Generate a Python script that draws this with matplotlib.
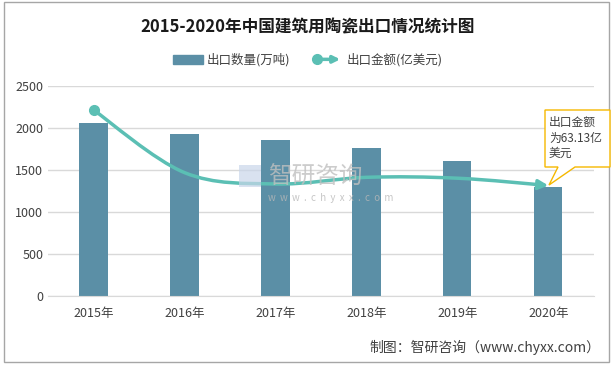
import numpy as np
import matplotlib
matplotlib.use("Agg")
import matplotlib.pyplot as plt
from matplotlib.path import Path
from matplotlib.patches import FancyArrowPatch, Patch, Rectangle, Polygon
from matplotlib.lines import Line2D
from matplotlib.legend_handler import HandlerBase

plt.rcParams['font.family'] = ['Noto Sans CJK SC', 'DejaVu Sans']

# data
years = ["2015年", "2016年", "2017年", "2018年", "2019年", "2020年"]
qty = [2063, 1929, 1857, 1762, 1607, 1301]          # 出口数量(万吨)
value = [106.3, 70.5, 64.0, 67.8, 67.3, 63.13]      # 出口金额(亿美元)

bar_col = "#5b8fa6"
line_col = "#5bbfb4"
txt_col = "#404040"

fig = plt.figure(figsize=(6.16, 3.68), dpi=100)
ax = fig.add_axes([0.078, 0.1957, 0.886, 0.5707])
ax2 = ax.twinx()

x = np.arange(len(years))
ax.bar(x, qty, width=0.31, color=bar_col, zorder=2)
ax.set_xlim(-0.5, len(years) - 0.5)
ax.set_ylim(0, 2500)
ax.set_yticks(range(0, 2501, 500))
ax.set_xticks(x)
ax.set_xticklabels(years)
ax.tick_params(axis='both', length=0, labelsize=9, colors=txt_col)
ax.tick_params(axis='x', pad=8)
ax.grid(axis='y', color="#d9d9d9", lw=1, zorder=0)
for s in ax.spines.values():
    s.set_visible(False)
ax.spines['bottom'].set_visible(True)
ax.spines['bottom'].set_color("#d9d9d9")

ax2.set_ylim(0, 120)
ax2.set_yticks([])
for s in ax2.spines.values():
    s.set_visible(False)

# smoothed line (catmull-rom -> bezier)
px = np.array(x, dtype=float)
py = np.array(value, dtype=float)
verts = [(px[0], py[0])]
codes = [Path.MOVETO]
n = len(px)
for i in range(n - 1):
    p0 = np.array([px[max(i - 1, 0)], py[max(i - 1, 0)]])
    p1 = np.array([px[i], py[i]])
    p2 = np.array([px[i + 1], py[i + 1]])
    p3 = np.array([px[min(i + 2, n - 1)], py[min(i + 2, n - 1)]])
    c1 = p1 + (p2 - p0) / 6.0
    c2 = p2 - (p3 - p1) / 6.0
    verts += [tuple(c1), tuple(c2), tuple(p2)]
    codes += [Path.CURVE4] * 3
curve = FancyArrowPatch(path=Path(verts, codes), arrowstyle='-|>', mutation_scale=14,
                        color=line_col, lw=2.5, transform=ax2.transData, zorder=4)
ax2.add_patch(curve)
ax2.plot([px[0]], [py[0]], marker='o', ms=7, color=line_col, zorder=5)


class ArrowHandler(HandlerBase):
    def create_artists(self, legend, orig, xd, yd, width, height, fontsize, trans):
        y = height / 2 - yd
        arr = FancyArrowPatch((-xd, y), (width - xd, y), arrowstyle='-|>',
                              mutation_scale=10, color=line_col, lw=2.5)
        arr.set_transform(trans)
        dot = Line2D([-xd + 3], [y], marker='o', ms=7, color=line_col, lw=0)
        dot.set_transform(trans)
        return [arr, dot]


h1 = Patch(color=bar_col)
h2 = Line2D([], [], color=line_col)
fig.legend([h1, h2], ["出口数量(万吨)", "出口金额(亿美元)"], handler_map={h2: ArrowHandler()},
           loc='center', bbox_to_anchor=(0.5, 0.837), ncol=2, frameon=False,
           fontsize=9, handlelength=2.4, handleheight=0.7, columnspacing=1.8,
           handletextpad=0.3, labelcolor=txt_col)

fig.text(0.5, 0.925, "2015-2020年中国建筑用陶瓷出口情况统计图", ha='center', va='center',
         fontsize=12, fontweight='bold', color="#1a1a1a")
fig.text(0.974, 0.057, "制图：智研咨询（www.chyxx.com）", ha='right', va='center',
         fontsize=10, color=txt_col)

# watermark
W, H = 616.0, 368.0
fig.text(268 / W, 1 - 177 / H, "智研咨询", ha='left', va='center', fontsize=17,
         color="#c0c0c0", alpha=0.8, zorder=6)
fig.text(268 / W, 1 - 198 / H, "w  w  w  .  c  h  y  x  x  .  c  o  m", ha='left', va='center',
         fontsize=7, color="#b8b8b8", alpha=0.8, zorder=6)
fig.patches.append(Rectangle((239 / W, 1 - 187 / H), 22 / W, 22 / H, transform=fig.transFigure,
                             facecolor="#c9d6ea", edgecolor='none', alpha=0.7, figure=fig,
                             zorder=6))

# callout
pts = [(545, 110), (610, 110), (610, 167), (575, 167), (549, 185), (558, 167), (545, 167)]
fig.patches.append(Polygon([(a / W, 1 - b / H) for a, b in pts], closed=True,
                           transform=fig.transFigure, facecolor='white', edgecolor="#f5b800",
                           lw=1, figure=fig, zorder=10))
fig.text(549 / W, 1 - 138 / H, "出口金额\n为63.13亿\n美元", ha='left', va='center',
         fontsize=8.5, color=txt_col, linespacing=1.25, zorder=11)

# frame
fig.patches.append(Rectangle((4 / W, 1 - 362 / H), 605 / W, 360 / H, transform=fig.transFigure,
                             facecolor='none', edgecolor="#a6a6a6", lw=1, figure=fig))

fig.savefig("out.png", dpi=100)
